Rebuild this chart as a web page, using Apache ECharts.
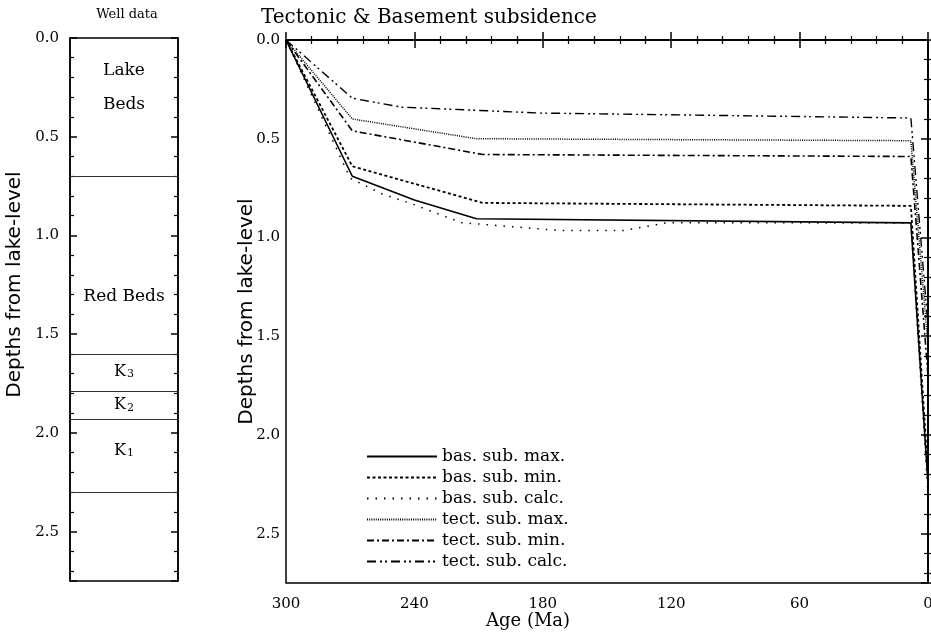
<!DOCTYPE html>
<html>
<head>
<meta charset="utf-8">
<script src="https://cdn.jsdelivr.net/npm/echarts@6/dist/echarts.min.js"></script>
<style>html,body{margin:0;padding:0;background:#fff}#c{width:931px;height:632px}</style>
</head>
<body>
<div id="c"></div>
<script>
// ---- Data ----
const seriesNames = ['bas. sub. max.', 'bas. sub. min.', 'bas. sub. calc.', 'tect. sub. max.', 'tect. sub. min.', 'tect. sub. calc.'];
const basSubMax  = [[300, 0], [269, 0.69], [240, 0.81], [211, 0.905], [8, 0.926], [0, 2.25]];
const basSubMin  = [[300, 0], [269, 0.64], [208, 0.825], [8, 0.84], [0, 2.2]];
const basSubCalc = [[300, 0], [270, 0.70], [255, 0.78], [241, 0.83], [229, 0.88], [218, 0.925], [172, 0.965], [142, 0.965], [122, 0.925], [8, 0.927], [0, 2.3]];
const tectSubMax = [[300, 0], [269, 0.40], [211, 0.50], [8, 0.51], [0, 1.55]];
const tectSubMin = [[300, 0], [269, 0.46], [208, 0.58], [8, 0.59], [0, 1.7]];
const tectSubCalc = [[300, 0], [269, 0.295], [246, 0.34], [181, 0.37], [8, 0.395], [0, 1.45]];

const layerBoundaries = [0.70, 1.60, 1.79, 1.93, 2.30];
const layerNames = ['Lake\nBeds', 'Red Beds', 'K3', 'K2', 'K1'];
const layerLabelDepths = [0.25, 1.31, 1.69, 1.86, 2.09];

const ageTicks = [300, 240, 180, 120, 60, 0];
const depthTicks = [0.0, 0.5, 1.0, 1.5, 2.0, 2.5];

// ---- Chart ----
const serif = 'DejaVu Serif';
const chart = echarts.init(document.getElementById('c'));

const dashes = [
  'solid',
  [3, 2.5],
  [1.5, 7],
  [1, 1.2],
  [7, 3, 2, 3],
  [9, 4, 2, 3, 2, 4]
];
const widths = [1.6, 1.8, 1.5, 1.5, 1.6, 1.4];
const mainData = [basSubMax, basSubMin, basSubCalc, tectSubMax, tectSubMin, tectSubCalc];

function depthLabel(v) {
  return depthTicks.some(t => Math.abs(t - v) < 1e-6) ? v.toFixed(1) : '';
}
function ageLabel(v) {
  return ageTicks.indexOf(v) >= 0 ? String(v) : '';
}

const yCommon = {
  type: 'value', min: 0, max: 2.75, interval: 0.5, inverse: true,
  splitLine: { show: false },
  axisLine: { show: true, lineStyle: { color: '#000', width: 1.5 } },
  axisTick: { show: true, inside: true, length: 7, lineStyle: { color: '#000', width: 1.5 } },
  minorTick: { show: true, splitNumber: 5, length: 4, lineStyle: { color: '#000', width: 1.2 } }
};

const option = {
  backgroundColor: '#fff',
  animation: false,
  textStyle: { fontFamily: serif, color: '#000' },
  title: [
    { text: 'Well data', left: 122, top: 3, textAlign: 'center', textStyle: { fontFamily: serif, fontSize: 13, fontWeight: 'normal', color: '#000' } },
    { text: 'Tectonic & Basement subsidence', left: 256, top: 3, textStyle: { fontFamily: serif, fontSize: 20, fontWeight: 'normal', color: '#000' } }
  ],
  grid: [
    { left: 70, right: 753, top: 38, bottom: 51, show: true, borderColor: '#000', borderWidth: 1.5, outerBoundsMode: 'none', containLabel: false },
    { left: 286, right: 3, top: 40, bottom: 49, show: true, borderColor: '#000', borderWidth: 1.5, outerBoundsMode: 'none', containLabel: false }
  ],
  xAxis: [
    { gridIndex: 0, type: 'value', min: 0, max: 1, axisLine: { show: false }, axisTick: { show: false }, axisLabel: { show: false }, splitLine: { show: false } },
    { gridIndex: 1, type: 'value', min: 0, max: 300, interval: 60, inverse: true, position: 'bottom',
      axisLine: { show: true, lineStyle: { color: '#000', width: 1.5 } },
      axisTick: { show: true, inside: true, length: 8, lineStyle: { color: '#000', width: 1.5 } },
      minorTick: { show: true, splitNumber: 5, length: 4, lineStyle: { color: '#000', width: 1.2 } },
      axisLabel: { formatter: ageLabel, fontFamily: serif, fontSize: 15, color: '#000', margin: 14 },
      splitLine: { show: false } },
    { gridIndex: 1, type: 'value', min: 0, max: 300, interval: 60, inverse: true, position: 'top',
      axisLine: { show: true, lineStyle: { color: '#000', width: 1.5 } },
      axisTick: { show: true, inside: true, length: 8, lineStyle: { color: '#000', width: 1.5 } },
      minorTick: { show: true, splitNumber: 5, length: 4, lineStyle: { color: '#000', width: 1.2 } },
      axisLabel: { show: false }, splitLine: { show: false } }
  ],
  yAxis: [
    Object.assign({}, yCommon, { gridIndex: 0, position: 'left',
      name: 'Depths from lake-level', nameLocation: 'middle', nameGap: 45, nameRotate: 90, nameMoveOverlap: false,
      nameTextStyle: { fontFamily: 'DejaVu Sans', fontSize: 20, color: '#000', padding: [0, 0, 0, 50] },
      axisLabel: { formatter: depthLabel, fontFamily: serif, fontSize: 15, color: '#000', margin: 11 } }),
    Object.assign({}, yCommon, { gridIndex: 0, position: 'right', axisLabel: { show: false } }),
    Object.assign({}, yCommon, { gridIndex: 1, position: 'left',
      name: 'Depths from lake-level', nameLocation: 'middle', nameGap: 29, nameRotate: 90, nameMoveOverlap: false,
      nameTextStyle: { fontFamily: 'DejaVu Sans', fontSize: 20, color: '#000' },
      axisLabel: { formatter: depthLabel, fontFamily: serif, fontSize: 15, color: '#000', margin: 6 } }),
    Object.assign({}, yCommon, { gridIndex: 1, position: 'right', axisLabel: { show: false } })
  ],
  legend: {
    orient: 'vertical', left: 361, top: 443, itemWidth: 70, itemHeight: 14, itemGap: 4,
    data: seriesNames,
    itemStyle: { opacity: 0 },
    textStyle: { fontFamily: serif, fontSize: 17, color: '#000' }
  },
  graphic: [
    { type: 'text', left: 486, top: 612, style: { text: 'Age (Ma)', font: '18px "DejaVu Serif"', fill: '#000' } }
  ],
  series: [
    {
      type: 'scatter', xAxisIndex: 0, yAxisIndex: 0, symbolSize: 0, silent: true,
      data: layerLabelDepths.map((d, i) => ({ value: [0.5, d], name: layerNames[i] })),
      label: {
        show: true, position: 'inside',
        formatter: p => {
          const n = p.name;
          if (/^K\d$/.test(n)) return '{k|K}{s|' + n.slice(1) + '}';
          return '{t|' + n.split('\n').join('}\n{t|') + '}';
        },
        color: '#000', opacity: 1,
        rich: {
          t: { fontFamily: serif, fontSize: 17, color: '#000', lineHeight: 34 },
          k: { fontFamily: serif, fontSize: 16, color: '#000' },
          s: { fontFamily: serif, fontSize: 11, color: '#000', padding: [5, 0, 0, 1] }
        }
      },
      markLine: {
        silent: true, symbol: 'none', label: { show: false },
        lineStyle: { color: '#333', width: 1, type: 'solid' },
        data: layerBoundaries.map(d => ({ yAxis: d }))
      }
    }
  ].concat(mainData.map((d, i) => ({
    name: seriesNames[i], type: 'line', xAxisIndex: 1, yAxisIndex: 2,
    data: d, showSymbol: false, symbol: 'none', smooth: false,
    lineStyle: { color: '#000', width: widths[i], type: dashes[i] },
    itemStyle: { color: '#000' }
  })))
};
chart.setOption(option);
</script>
</body>
</html>
